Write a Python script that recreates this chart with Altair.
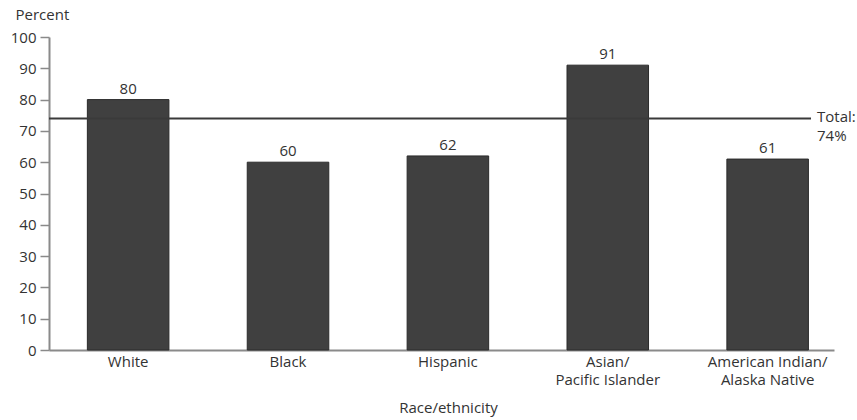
import altair as alt
import pandas as pd

groups = ["White", "Black", "Hispanic", "Asian/Pacific Islander", "American Indian/Alaska Native"]
percents = [80, 60, 62, 91, 61]
total_pct = 74
y_ticks = [0, 10, 20, 30, 40, 50, 60, 70, 80, 90, 100]

FONT = "Open Sans"
FS = 15

df = pd.DataFrame({"group": groups, "pct": percents})
total_df = pd.DataFrame({"pct": [total_pct], "label": [["Total:", f"{total_pct}%"]]})

label_expr = (
    "datum.label == 'Asian/Pacific Islander' ? ['Asian/', 'Pacific Islander'] : "
    "datum.label == 'American Indian/Alaska Native' ? ['American Indian/', 'Alaska Native'] : datum.label"
)

x = alt.X(
    "group:N",
    sort=groups,
    scale=alt.Scale(paddingInner=0.49, paddingOuter=0.2, align=0.6),
    axis=alt.Axis(
        title="Race/ethnicity", labelAngle=0, ticks=False, labelPadding=4,
        labelExpr=label_expr, labelLineHeight=18.5, labelFontSize=FS,
        titleFontSize=FS, titleFontWeight="normal", titleX=399, titleAlign="center",
        titleY=62, titleBaseline="alphabetic",
        domainColor="#8a8a8a", domainWidth=2, labelColor="#333333", titleColor="#333333",
        labelFont=FONT, titleFont=FONT,
    ),
)

y = alt.Y(
    "pct:Q",
    scale=alt.Scale(domain=[0, 100], nice=False),
    axis=alt.Axis(
        title="Percent", values=y_ticks, grid=False, labelOverlap=False,
        tickSize=9, tickColor="#8a8a8a", tickWidth=1.5, domainColor="#8a8a8a", domainWidth=2,
        labelFontSize=FS, labelPadding=4, labelColor="#333333",
        titleAngle=0, titleAlign="left", titleX=-34, titleY=-18, titleBaseline="alphabetic",
        titleFontSize=FS, titleFontWeight="normal", titleColor="#333333",
        labelFont=FONT, titleFont=FONT,
    ),
)

bars = alt.Chart(df).mark_bar(color="#404040", stroke="#2a2a2a", strokeWidth=1).encode(x=x, y=y)

values = alt.Chart(df).mark_text(
    baseline="bottom", dy=-3, fontSize=FS, font=FONT, color="#333333"
).encode(x=x, y=y, text="pct:Q")

total_rule = alt.Chart(total_df).mark_rule(color="#3a3a3a", strokeWidth=2).encode(
    y=y, x=alt.value(0), x2=alt.value(762)
)

total_text = alt.Chart(total_df).mark_text(
    align="left", baseline="middle", dy=-1, fontSize=FS, font=FONT, color="#333333", lineHeight=18.5
).encode(y=y, x=alt.value(768), text="label")

chart = (
    alt.layer(bars, values, total_rule, total_text)
    .properties(
        width=785, height=313,
        background="white",
        autosize=alt.AutoSizeParams(type="none"),
        padding={"left": 49, "top": 37, "right": 23, "bottom": 70},
    )
    .configure_view(strokeWidth=0, stroke=None)
)

chart.save("out.html", embed_options={"renderer": "svg", "actions": False})
